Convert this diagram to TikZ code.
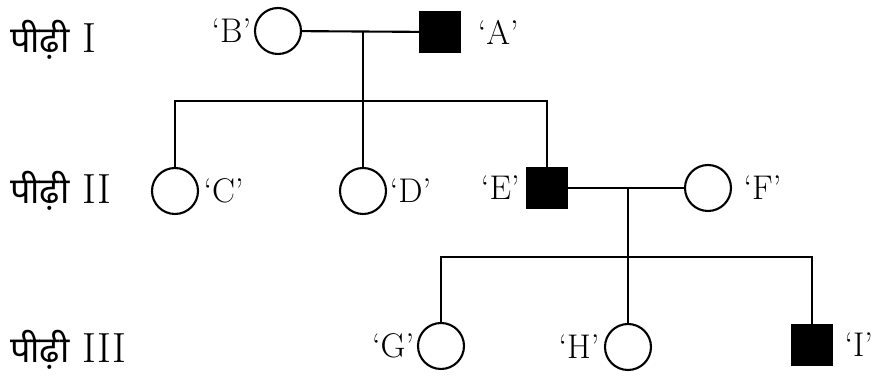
\documentclass[tikz,border=0pt]{standalone}
\usepackage{fontspec}
\newfontfamily\deva[Script=Devanagari]{Noto Sans}
\usetikzlibrary{positioning}

\begin{document}
\begin{tikzpicture}[
  x=0.02cm, y=-0.02cm,
  line width=1.2pt,
  fem/.style={circle, draw=black, fill=white, minimum size=0.92cm, inner sep=0pt},
  malefill/.style={rectangle, draw=black, fill=black, minimum size=0.8cm, inner sep=0pt},
  tag/.style={inner sep=0pt, font=\fontsize{19.5}{21}\selectfont},
  gen/.style={inner sep=0pt, anchor=base west, font=\fontsize{24}{26}\selectfont}
]
  \useasboundingbox (0,0) rectangle (873,377);

  % generation labels
  \node[gen] (g1) at (9,53) {{\deva\fontsize{20.5}{22}\selectfont पीढ़ी}\ I};
  \node[gen] (g2) at (9,204) {{\deva\fontsize{20.5}{22}\selectfont पीढ़ी}\ II};
  \node[gen] (g3) at (9,363) {{\deva\fontsize{20.5}{22}\selectfont पीढ़ी}\ III};

  % generation I
  \node[fem] (B) at (278,31) {};
  \node[malefill] (A) at (440,32) {};
  \node[tag, left=1pt of B] (lB) {`B'};
  \node[tag, right=9pt of A] (lA) {`A'};

  % generation II
  \node[fem] (C) at (175,191) {};
  \node[fem] (D) at (363,191) {};
  \node[malefill] (E) at (547,188) {};
  \node[fem] (F) at (708,188) {};
  \node[tag, right=2pt of C] (lC) {`C'};
  \node[tag, right=1pt of D] (lD) {`D'};
  \node[tag, left=3pt of E] (lE) {`E'};
  \node[tag, right=6pt of F] (lF) {`F'};

  % generation III
  \node[fem] (G) at (441,346) {};
  \node[fem] (H) at (628,347) {};
  \node[malefill] (I) at (812,345) {};
  \node[tag, left=1pt of G] (lG) {`G'};
  \node[tag, left=2pt of H] (lH) {`H'};
  \node[tag, right=6pt of I] (lI) {`I'};

  % mating lines and sibships
  \coordinate (m1) at (363,31);
  \coordinate (s1) at (363,101);
  \draw (B) -- (A);
  \draw (m1) -- (s1);
  \draw (C.north) |- (s1) -| (E.north);
  \draw (s1) -- (D.north);

  \coordinate (m2) at (628,189);
  \coordinate (s2) at (628,257);
  \draw (E) -- (F);
  \draw (m2) -- (s2);
  \draw (G.north) |- (s2) -| (I.north);
  \draw (s2) -- (H.north);
\end{tikzpicture}
\end{document}
